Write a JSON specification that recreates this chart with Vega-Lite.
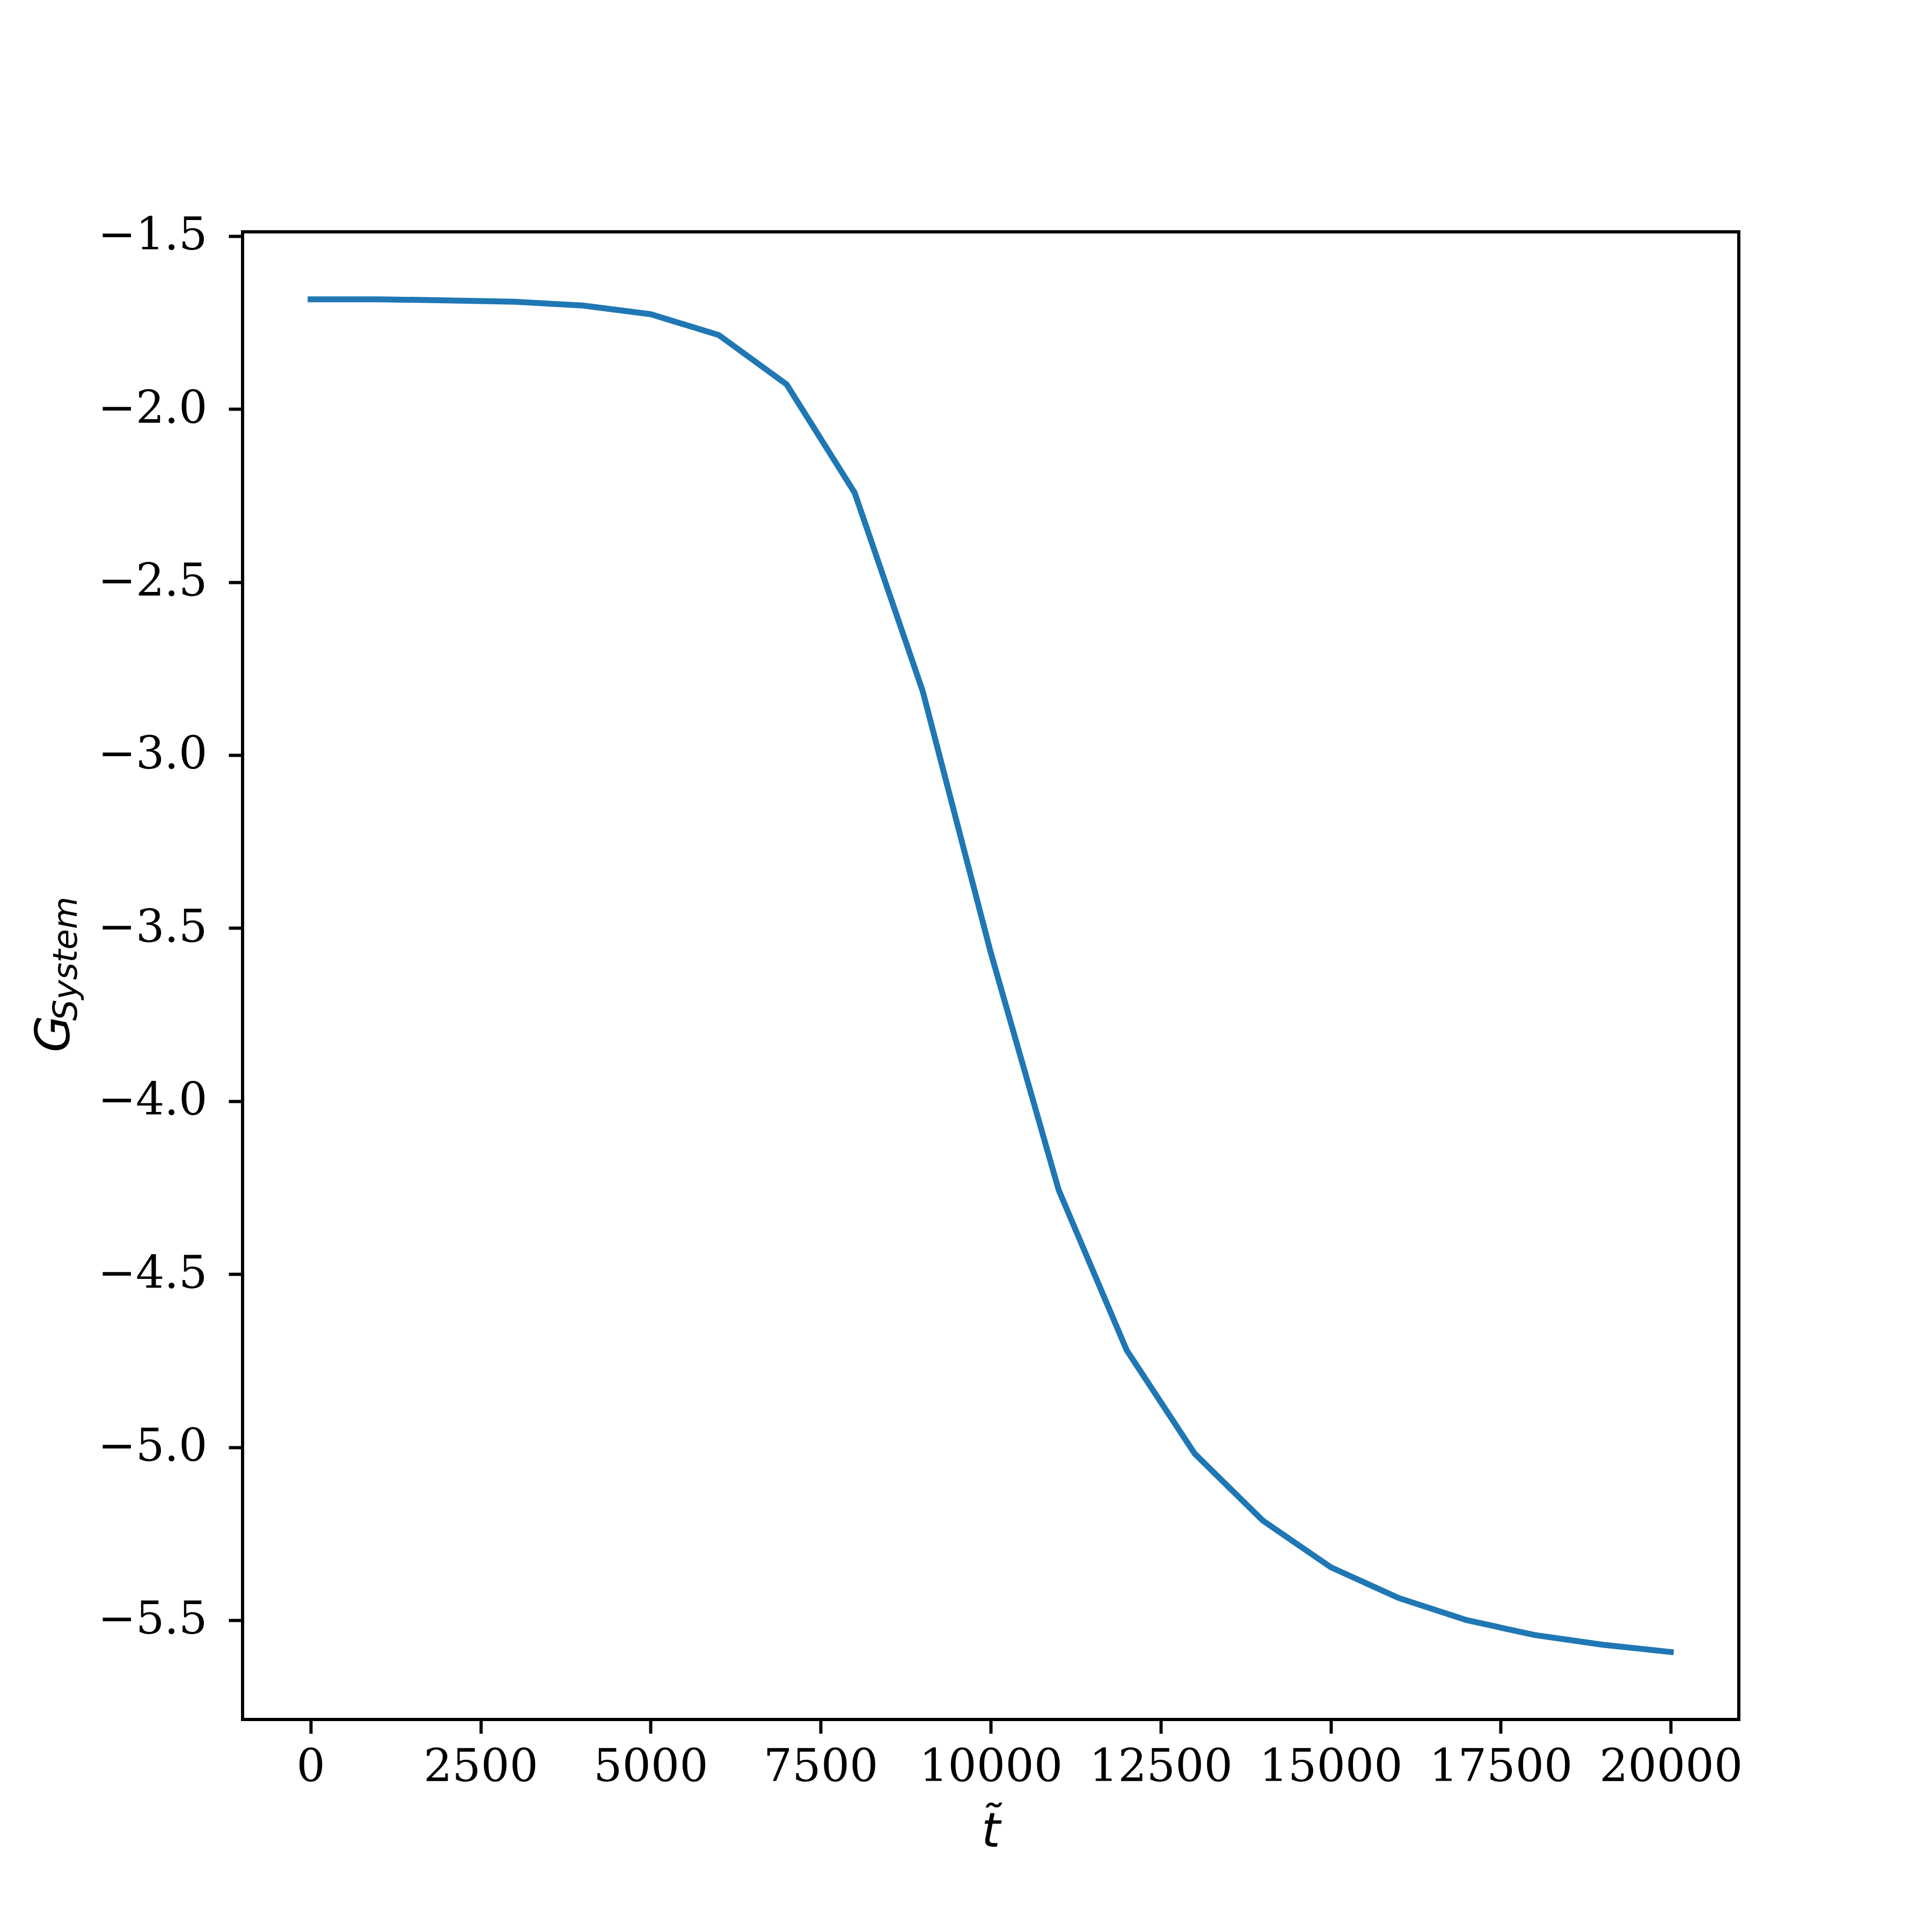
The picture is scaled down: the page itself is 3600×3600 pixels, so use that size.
{
  "$schema": "https://vega.github.io/schema/vega-lite/v6.json",
  "width": 2788,
  "height": 2772,
  "autosize": {"type": "none"},
  "padding": {"left": 452, "top": 432, "right": 360, "bottom": 396},
  "background": "white",
  "config": {
    "view": {"stroke": "black", "strokeWidth": 6},
    "axis": {
      "grid": false,
      "domain": false,
      "tickColor": "black",
      "tickWidth": 6,
      "tickSize": 26,
      "labelFont": "DejaVu Serif",
      "labelFontSize": 84,
      "labelColor": "black",
      "labelLimit": 2000,
      "labelOverlap": false,
      "labelFlush": false,
      "titleLimit": 2000,
      "titleColor": "black",
      "titleFont": "DejaVu Sans",
      "titleFontStyle": "italic",
      "titleFontWeight": "normal"
    }
  },
  "data": {
    "values": [
      {"t": 0, "G": -1.683},
      {"t": 1000, "G": -1.683},
      {"t": 2000, "G": -1.686},
      {"t": 3000, "G": -1.690},
      {"t": 4000, "G": -1.701},
      {"t": 5000, "G": -1.726},
      {"t": 6000, "G": -1.786},
      {"t": 7000, "G": -1.929},
      {"t": 8000, "G": -2.242},
      {"t": 9000, "G": -2.815},
      {"t": 10000, "G": -3.570},
      {"t": 11000, "G": -4.257},
      {"t": 12000, "G": -4.720},
      {"t": 13000, "G": -5.019},
      {"t": 14000, "G": -5.212},
      {"t": 15000, "G": -5.347},
      {"t": 16000, "G": -5.436},
      {"t": 17000, "G": -5.500},
      {"t": 18000, "G": -5.543},
      {"t": 19000, "G": -5.571},
      {"t": 20000, "G": -5.592}
    ]
  },
  "resolve": {"axis": {"y": "independent"}},
  "layer": [
    {
      "mark": {"type": "line", "color": "#1f77b4", "strokeWidth": 11, "strokeCap": "square", "clip": true},
      "encoding": {
        "x": {
          "field": "t", "type": "quantitative",
          "scale": {"domain": [-1000, 21000], "nice": false, "zero": false},
          "axis": {
            "values": [0, 2500, 5000, 7500, 10000, 12500, 15000, 17500, 20000],
            "format": "d",
            "labelPadding": 22,
            "title": "t\u0303",
            "titleFontSize": 89,
            "titleBaseline": "alphabetic",
            "titleY": 236,
            "titleX": 1394
          }
        },
        "y": {
          "field": "G", "type": "quantitative",
          "scale": {"domain": [-5.787, -1.488], "nice": false, "zero": false},
          "axis": {
            "orient": "left",
            "values": [-5.5, -5.0, -4.5, -4.0, -3.5, -3.0, -2.5, -2.0, -1.5],
            "format": ".1f",
            "labelPadding": 40,
            "title": "G",
            "titleFontSize": 89,
            "titleAngle": 270,
            "titleAlign": "center",
            "titleBaseline": "alphabetic",
            "titleX": -324,
            "titleY": 1494
          }
        }
      }
    },
    {
      "mark": {"type": "point", "opacity": 0},
      "encoding": {
        "x": {"field": "t", "type": "quantitative"},
        "y": {
          "field": "G", "type": "quantitative",
          "axis": {
            "orient": "left",
            "labels": false,
            "ticks": false,
            "domain": false,
            "title": "System",
            "titleFontSize": 62,
            "titleAngle": 270,
            "titleAlign": "center",
            "titleBaseline": "alphabetic",
            "titleX": -310,
            "titleY": 1354
          }
        }
      }
    }
  ]
}
